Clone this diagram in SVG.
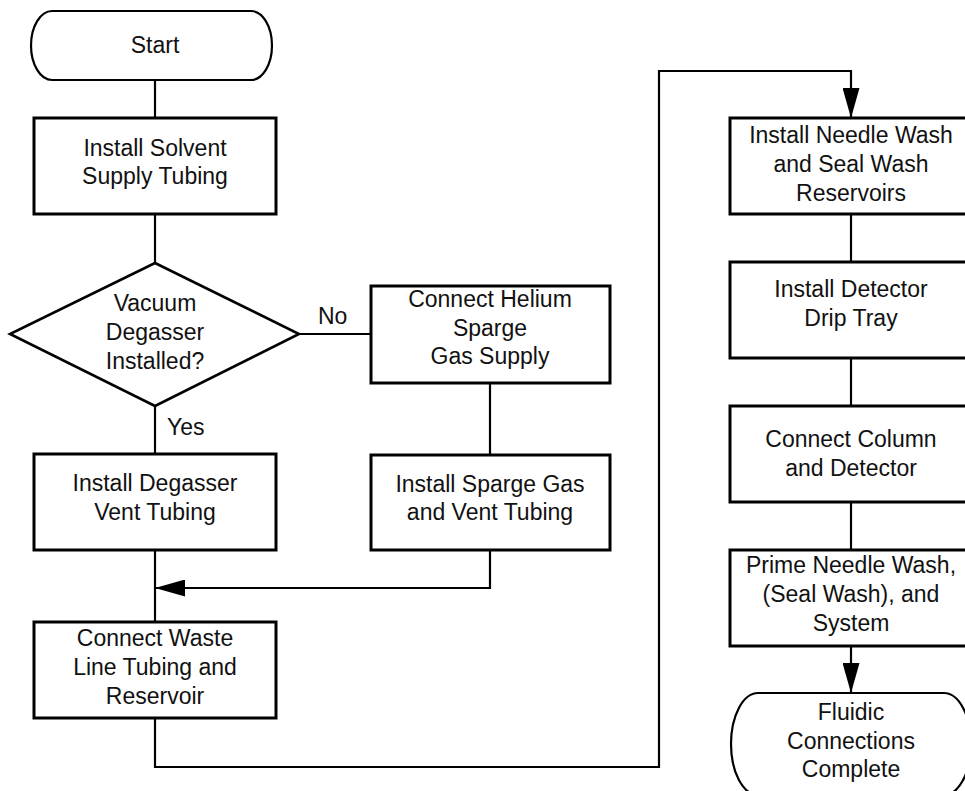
<svg xmlns="http://www.w3.org/2000/svg" width="965" height="791" viewBox="0 0 965 791">
  <style>
    .box { fill: #ffffff; stroke: #000000; stroke-width: 3; }
    .term { fill: #ffffff; stroke: #000000; stroke-width: 2.2; }
    .dec { fill: #ffffff; stroke: #000000; stroke-width: 2.6; }
    .line { fill: none; stroke: #000000; stroke-width: 2.2; }
    text { font-family: "Liberation Sans", Arial, Helvetica, sans-serif; font-size: 23px; fill: #111111; text-anchor: middle; }
    .lbl { text-anchor: start; }
  </style>
  <defs>
    <marker id="arrow" markerUnits="userSpaceOnUse" viewBox="0 0 30 17" refX="30" refY="8.5" markerWidth="30" markerHeight="17" orient="auto">
      <path d="M0,0 L30,8.5 L0,17 Z" fill="#000000"/>
    </marker>
  </defs>

  <!-- connectors -->
  <g id="connectors">
    <path class="line" d="M155,80 V118"/>
    <path class="line" d="M155,214 V263"/>
    <path class="line" d="M299,334 H371"/>
    <path class="line" d="M155,406 V454"/>
    <path class="line" d="M490,383 V455"/>
    <path class="line" d="M155,550 V622"/>
    <path class="line" d="M490,550 V588 H155" marker-end="url(#arrow)"/>
    <path class="line" d="M155,718 V767 H659 V71 H851 V118" marker-end="url(#arrow)"/>
    <path class="line" d="M851,214 V262"/>
    <path class="line" d="M851,358 V406"/>
    <path class="line" d="M851,502 V550"/>
    <path class="line" d="M851,646 V693" marker-end="url(#arrow)"/>
    <text class="lbl" x="318" y="324">No</text>
    <text class="lbl" x="167" y="435">Yes</text>
  </g>

  <g id="start">
    <path class="term" d="M52,11 H251 A21,34.5 0 0 1 251,80 H52 A21,34.5 0 0 1 52,11 Z"/>
    <text x="155" y="53">Start</text>
  </g>

  <g id="solvent-tubing">
    <rect class="box" x="34" y="118" width="242" height="96"/>
    <text x="155" y="156">Install Solvent</text>
    <text x="155" y="184">Supply Tubing</text>
  </g>

  <g id="degasser-question">
    <polygon class="dec" points="155,263 299,334 155,406 10,334"/>
    <text x="155" y="311">Vacuum</text>
    <text x="155" y="340">Degasser</text>
    <text x="155" y="369">Installed?</text>
  </g>

  <g id="helium-supply">
    <rect class="box" x="371" y="286" width="239" height="97"/>
    <text x="490" y="307">Connect Helium</text>
    <text x="490" y="336">Sparge</text>
    <text x="490" y="364">Gas Supply</text>
  </g>

  <g id="degasser-vent">
    <rect class="box" x="34" y="454" width="242" height="96"/>
    <text x="155" y="491">Install Degasser</text>
    <text x="155" y="520">Vent Tubing</text>
  </g>

  <g id="sparge-vent">
    <rect class="box" x="371" y="455" width="239" height="95"/>
    <text x="490" y="492">Install Sparge Gas</text>
    <text x="490" y="520">and Vent Tubing</text>
  </g>

  <g id="waste-line">
    <rect class="box" x="34" y="622" width="242" height="96"/>
    <text x="155" y="646">Connect Waste</text>
    <text x="155" y="675">Line Tubing and</text>
    <text x="155" y="704">Reservoir</text>
  </g>

  <g id="wash-reservoirs">
    <rect class="box" x="730" y="118" width="242" height="96"/>
    <text x="851" y="143">Install Needle Wash</text>
    <text x="851" y="172">and Seal Wash</text>
    <text x="851" y="201">Reservoirs</text>
  </g>

  <g id="drip-tray">
    <rect class="box" x="730" y="262" width="242" height="96"/>
    <text x="851" y="297">Install Detector</text>
    <text x="851" y="326">Drip Tray</text>
  </g>

  <g id="column-detector">
    <rect class="box" x="730" y="406" width="242" height="96"/>
    <text x="851" y="447">Connect Column</text>
    <text x="851" y="476">and Detector</text>
  </g>

  <g id="prime-system">
    <rect class="box" x="730" y="550" width="242" height="96"/>
    <text x="851" y="573">Prime Needle Wash,</text>
    <text x="851" y="602">(Seal Wash), and</text>
    <text x="851" y="631">System</text>
  </g>

  <g id="complete">
    <path class="term" d="M758,693 H944 A27,51 0 0 1 944,795 H758 A27,51 0 0 1 758,693 Z"/>
    <text x="851" y="720">Fluidic</text>
    <text x="851" y="749">Connections</text>
    <text x="851" y="777">Complete</text>
  </g>
</svg>
